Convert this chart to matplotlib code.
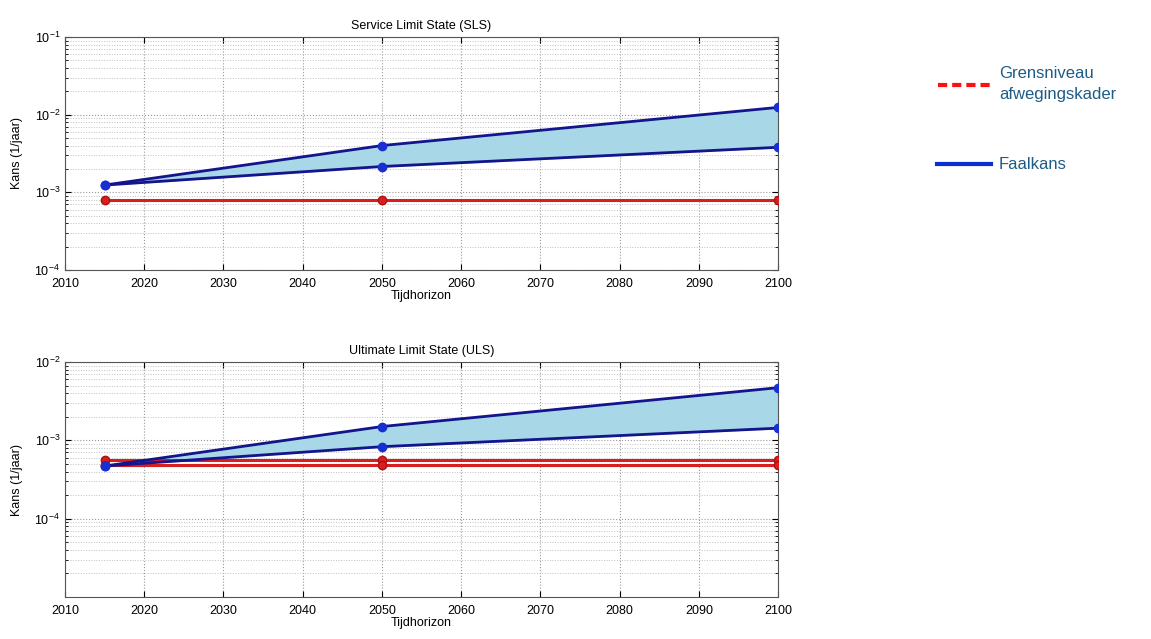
import matplotlib.pyplot as plt
from matplotlib.lines import Line2D
from matplotlib.ticker import LogLocator, NullFormatter, FixedLocator

plt.rcParams['font.family'] = ['Liberation Sans', 'DejaVu Sans']

years = [2015, 2050, 2100]

# SLS
sls_upper = [1.24e-3, 4.0e-3, 1.24e-2]
sls_lower = [1.24e-3, 2.15e-3, 3.8e-3]
sls_limit = [7.9e-4, 7.9e-4, 7.9e-4]

# ULS
uls_upper = [4.7e-4, 1.5e-3, 4.7e-3]
uls_lower = [4.7e-4, 8.3e-4, 1.43e-3]
uls_limit_hi = [5.6e-4, 5.6e-4, 5.6e-4]
uls_limit_lo = [4.8e-4, 4.8e-4, 4.8e-4]

titles = ['Service Limit State (SLS)', 'Ultimate Limit State (ULS)']
ylims = [(1e-4, 1e-1), (1e-5, 1e-2)]
ytick_vals = [[1e-4, 1e-3, 1e-2, 1e-1], [1e-4, 1e-3, 1e-2]]

blue_line = '#14148c'
blue_dot = '#1a2fd0'
red_line = '#d81e1e'
fill_col = '#a8d8e8'

fig = plt.figure(figsize=(11.51, 6.39), dpi=100)
ax1 = fig.add_axes([0.0565, 0.5775, 0.6195, 0.3646])
ax2 = fig.add_axes([0.0565, 0.0657, 0.6195, 0.3678])

def style(ax, title, ylim, yt):
    ax.set_yscale('log')
    ax.set_xlim(2010, 2100)
    ax.set_ylim(*ylim)
    ax.set_xticks(range(2010, 2101, 10))
    ax.yaxis.set_major_locator(FixedLocator(yt))
    ax.yaxis.set_minor_locator(LogLocator(base=10, subs=range(2, 10)))
    ax.yaxis.set_minor_formatter(NullFormatter())
    ax.grid(True, which='major', linestyle=':', color='#9a9a9a', linewidth=0.8)
    ax.grid(True, which='minor', axis='y', linestyle=':', color='#c0c0c0', linewidth=0.7)
    ax.tick_params(labelsize=9, direction='in', top=True, right=True, length=4)
    ax.tick_params(axis='x', pad=6)
    ax.tick_params(which='minor', direction='in', right=True, length=2)
    for s in ax.spines.values():
        s.set_color('#555555')
    ax.set_title(title, fontsize=9, pad=6)
    ax.set_xlabel('Tijdhorizon', fontsize=9, labelpad=0)
    ax.set_ylabel('Kans (1/jaar)', fontsize=9, labelpad=8)
    ax.set_axisbelow(True)

style(ax1, titles[0], ylims[0], ytick_vals[0])
style(ax2, titles[1], ylims[1], ytick_vals[1])

# limit lines
ax1.plot(years, sls_limit, color=red_line, lw=2.2, marker='o', ms=6,
         mfc=red_line, mec='#b01010', zorder=3)
ax2.plot(years, uls_limit_hi, color=red_line, lw=2.2, marker='o', ms=6,
         mfc=red_line, mec='#b01010', zorder=3)
ax2.plot(years, uls_limit_lo, color=red_line, lw=2.2, marker='o', ms=6,
         mfc=red_line, mec='#b01010', zorder=3)

# failure probability band
for ax, up, lo in [(ax1, sls_upper, sls_lower), (ax2, uls_upper, uls_lower)]:
    ax.fill_between(years, lo, up, color=fill_col, zorder=2)
    for s in (up, lo):
        ax.plot(years, s, color=blue_line, lw=2, marker='o', ms=6,
                mfc=blue_dot, mec=blue_dot, zorder=4)

# legend on the right
txt_col = '#1d5c86'
fig.add_artist(Line2D([0.815, 0.862], [0.867, 0.867], transform=fig.transFigure,
                      color='#ff1010', lw=3, linestyle=(0, (2.2, 1.2))))
fig.text(0.868, 0.896, 'Grensniveau\nafwegingskader', fontsize=12,
         color=txt_col, va='top', ha='left', linespacing=1.5)
fig.add_artist(Line2D([0.814, 0.861], [0.743, 0.743], transform=fig.transFigure,
                      color='#0a2fd0', lw=3))
fig.text(0.868, 0.743, 'Faalkans', fontsize=12, color=txt_col,
         va='center', ha='left')

fig.savefig('out.png', dpi=100)
